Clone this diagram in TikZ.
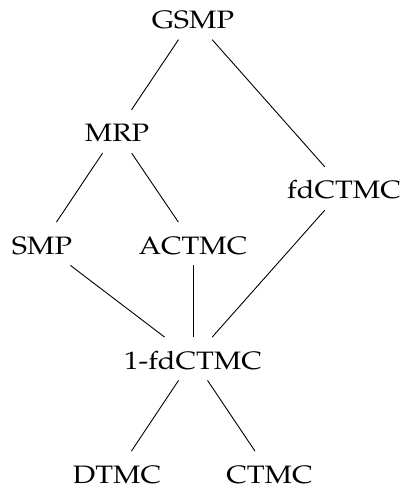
\documentclass[tikz,border=0pt]{standalone}
\usepackage[T1]{fontenc}
\usepackage{mathpazo}
\newcommand{\wide}[1]{\scalebox{1.15}[1]{#1}}
\tikzset{
  model/.style={inner xsep=2pt, inner ysep=3pt, text height=12.75pt, text depth=2.5pt,
    font=\fontsize{12.6}{15}\selectfont},
  link/.style={line width=0.45pt}
}
\begin{document}
\begin{tikzpicture}[x=0.5pt, y=-0.5pt]
  \useasboundingbox (0,0) rectangle (401,489);
  % hierarchy of stochastic process classes
  \node[model] (gsmp)   at (193,18)       {\wide{GSMP}};
  \node[model] (mrp)    at (117,131.5)    {\wide{MRP}};
  \node[model] (fd)     at (344,188.5)    {\wide{fdCTMC}};
  \node[model] (smp)    at (42,243.75)    {\wide{SMP}};
  \node[model] (actmc)  at (193,243.75)   {\wide{ACTMC}};
  \node[model] (onefd)  at (193,358.75)   {\wide{1-fdCTMC}};
  \node[model] (dtmc)   at (117,472.75)   {\wide{DTMC}};
  \node[model] (ctmc)   at (269.5,472.75) {\wide{CTMC}};

  \draw[link] (gsmp) -- (mrp);
  \draw[link] (gsmp) -- (fd);
  \draw[link] (mrp) -- (smp);
  \draw[link] (mrp) -- (actmc);
  \draw[link] (smp) -- (onefd);
  \draw[link] (actmc) -- (onefd);
  \draw[link] (fd) -- (onefd);
  \draw[link] (onefd) -- (dtmc);
  \draw[link] (onefd) -- (ctmc);
\end{tikzpicture}
\end{document}
